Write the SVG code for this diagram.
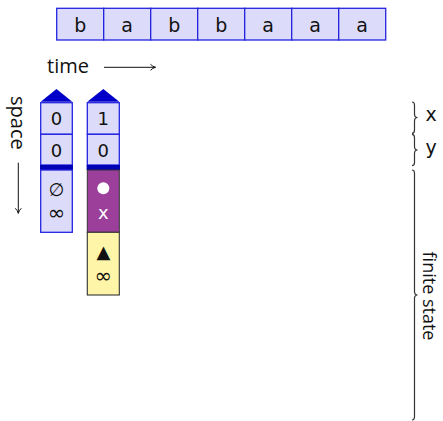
<svg xmlns="http://www.w3.org/2000/svg" width="443" height="421" viewBox="0 0 443 421">
<style>
.cell{fill:#dcdcfa;stroke:#2323e0;stroke-width:1.3}
.math{font-family:"DejaVu Sans","Noto Sans",sans-serif;font-size:19px;fill:#111;text-anchor:middle}
.lbl{font-family:"Open Sans","Noto Sans",sans-serif;font-size:20px;fill:#111}
.sym{font-family:"DejaVu Sans",sans-serif;font-size:18px;fill:#111;text-anchor:middle;dominant-baseline:central}
.inf{font-size:21px}
.tri{fill:#0000c8}
.bar{fill:#0000b4}
.brace{fill:none;stroke:#333;stroke-width:1.2}
.arr{fill:none;stroke:#111;stroke-width:1}
</style>
<defs>
<marker id="ah" markerWidth="8" markerHeight="8" refX="6" refY="4" orient="auto" markerUnits="userSpaceOnUse">
<path d="M1,1 Q3,3.2 6,4 Q3,4.8 1,7" fill="none" stroke="#111" stroke-width="1"/>
</marker>
</defs>
<g id="tape">
<rect class="cell" x="56.7" y="8.3" width="47" height="31.7"/>
<rect class="cell" x="103.7" y="8.3" width="47" height="31.7"/>
<rect class="cell" x="150.7" y="8.3" width="47" height="31.7"/>
<rect class="cell" x="197.7" y="8.3" width="47" height="31.7"/>
<rect class="cell" x="244.7" y="8.3" width="47" height="31.7"/>
<rect class="cell" x="291.7" y="8.3" width="47" height="31.7"/>
<rect class="cell" x="338.7" y="8.3" width="47" height="31.7"/>
<text class="math" x="80.2" y="32">b</text>
<text class="math" x="127.2" y="32">a</text>
<text class="math" x="174.2" y="32">b</text>
<text class="math" x="221.2" y="32">b</text>
<text class="math" x="268.2" y="32">a</text>
<text class="math" x="315.2" y="32">a</text>
<text class="math" x="362.2" y="32">a</text>
</g>
<g id="time-label">
<text class="lbl" x="47" y="73">time</text>
</g>
<g id="space-label">
<text class="lbl" transform="translate(11,96) rotate(90)">space</text>
</g>
<g id="connectors">
<line class="arr" x1="104" y1="67.3" x2="155.5" y2="67.3" marker-end="url(#ah)"/>
<line class="arr" x1="18.3" y1="162.7" x2="18.3" y2="213.3" marker-end="url(#ah)"/>
</g>
<g id="column1">
<polygon class="tri" points="40.7,101.7 56.5,89 72.3,101.7"/>
<rect class="cell" x="40.7" y="102.7" width="31.6" height="31.6"/>
<rect class="cell" x="40.7" y="134.3" width="31.6" height="30.7"/>
<rect class="bar" x="40" y="165" width="33" height="5"/>
<rect class="cell" x="40.7" y="170" width="31.6" height="62.3"/>
<text class="sym" x="56.5" y="118.5">0</text>
<text class="sym" x="56.5" y="150">0</text>
<text class="sym" x="56.5" y="189">∅</text>
<text class="sym inf" x="56.5" y="213">∞</text>
</g>
<g id="column2">
<polygon class="tri" points="87.3,101.7 103.3,89 119.3,101.7"/>
<rect class="cell" x="87.3" y="102.7" width="32" height="31.6"/>
<rect class="cell" x="87.3" y="134.3" width="32" height="30.7"/>
<rect class="bar" x="86.6" y="165" width="33.4" height="5"/>
<rect x="87.3" y="170" width="32" height="62.3" fill="#9b3f9b" stroke="#333" stroke-width="1"/>
<rect x="87.3" y="232.3" width="32" height="62.7" fill="#fff5a8" stroke="#333" stroke-width="1.1"/>
<text class="sym" x="103.3" y="118.5">1</text>
<text class="sym" x="103.3" y="150">0</text>
<circle cx="103.3" cy="188.3" r="6" fill="#fff"/>
<text class="sym" x="103.3" y="212" style="fill:#fff">x</text>
<text class="sym" x="103.3" y="251">▲</text>
<text class="sym inf" x="103.3" y="276">∞</text>
</g>
<g id="brace-x">
<path class="brace" d="M412,102 Q414.5,102 414.5,105 L414.5,114 Q414.5,117.5 417.5,117.5 Q414.5,117.5 414.5,121 L414.5,130 Q414.5,133.3 412,133.3"/>
<text class="math" x="431" y="121">x</text>
</g>
<g id="brace-y">
<path class="brace" d="M412,134.3 Q414.5,134.3 414.5,137.5 L414.5,146.5 Q414.5,150 417.5,150 Q414.5,150 414.5,153.5 L414.5,162.5 Q414.5,165.7 412,165.7"/>
<text class="math" x="431" y="154">y</text>
</g>
<g id="brace-finite">
<path class="brace" d="M412,170 Q414.5,170 414.5,173.5 L414.5,291.5 Q414.5,295 417.5,295 Q414.5,295 414.5,298.5 L414.5,416.5 Q414.5,420 412,420"/>
<text class="lbl" transform="translate(423,296) rotate(90)" text-anchor="middle" style="font-size:18px">finite state</text>
</g>
</svg>
